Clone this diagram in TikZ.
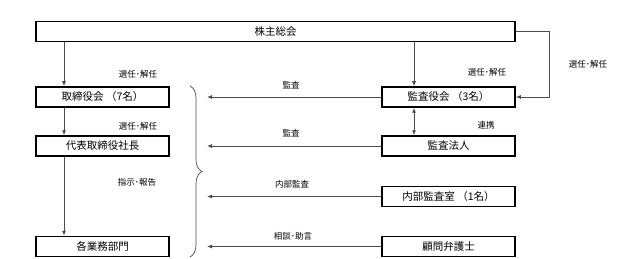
\documentclass[tikz,border=0pt]{standalone}
\usepackage{fontspec}
\setmainfont{Noto Sans CJK JP}
\usetikzlibrary{arrows.meta,decorations.pathreplacing}

\begin{document}
\begin{tikzpicture}[x=1pt, y=-1pt,
  box/.style={draw, line width=1.5pt, minimum width=133pt, minimum height=20pt, inner sep=0pt, font=\fontsize{10.5}{12}\selectfont},
  lbl/.style={font=\fontsize{8.5}{10}\selectfont, inner sep=0pt},
  conn/.style={draw=black!70, line width=0.8pt, -{Latex[length=5pt,width=4pt]}}]
\useasboundingbox (0,0) rectangle (623,259);
% boxes
\node[box, minimum width=479pt] (soukai) at (275.5,31.5) {株主総会};
\node[box] (torishimari) at (102.5,97) {取締役会 （7名）};
\node[box] (shachou) at (102.5,146) {代表取締役社長};
\node[box] (bumon) at (102.5,246.5) {各業務部門};
\node[box] (kansayaku) at (448.5,97) {監査役会 （3名）};
\node[box] (houjin) at (448.5,146) {監査法人};
\node[box] (naibu) at (448.5,196.5) {内部監査室 （1名）};
\node[box] (bengoshi) at (448.5,246.5) {顧問弁護士};
% helper coordinates
\coordinate (l) at (64,0);
\coordinate (r) at (414,0);
\coordinate (loop) at (549,97);
\coordinate (tip) at (207,0);
% vertical
\draw[conn] (soukai.south -| l) -- (torishimari.north -| l);
\draw[conn] (torishimari.south -| l) -- (shachou.north -| l);
\draw[conn] (shachou.south -| l) -- (bumon.north -| l);
\draw[conn] (soukai.south -| r) -- (kansayaku.north -| r);
\draw[conn, {Latex[length=5pt,width=4pt]}-{Latex[length=5pt,width=4pt]}] (kansayaku.south -| r) -- (houjin.north -| r);
\draw[conn] (soukai.east) -| (loop) -- (kansayaku.east);
% horizontal
\draw[conn] (kansayaku.west) -- (kansayaku.west -| tip);
\draw[conn] (houjin.west) -- (houjin.west -| tip);
\draw[conn] (naibu.west) -- (naibu.west -| tip);
\draw[conn] (bengoshi.west) -- (bengoshi.west -| tip);
% brace
\draw[black!70, line width=0.7pt, decorate, decoration={brace, amplitude=12pt}] (190,86) -- (190,257);
% labels
\node[lbl] (s1) at (138,74) {選任･解任};
\node[lbl] (s2) at (138,126) {選任･解任};
\node[lbl] (s3) at (137,182) {指示･報告};
\node[lbl] (s4) at (487,72) {選任･解任};
\node[lbl] (s5) at (486,125) {連携};
\node[lbl] (s6) at (588,64) {選任･解任};
\node[lbl] (k1) at (291,85) {監査};
\node[lbl] (k2) at (291,133) {監査};
\node[lbl] (k3) at (292,184) {内部監査};
\node[lbl] (k4) at (293,236) {相談･助言};
\end{tikzpicture}
\end{document}
